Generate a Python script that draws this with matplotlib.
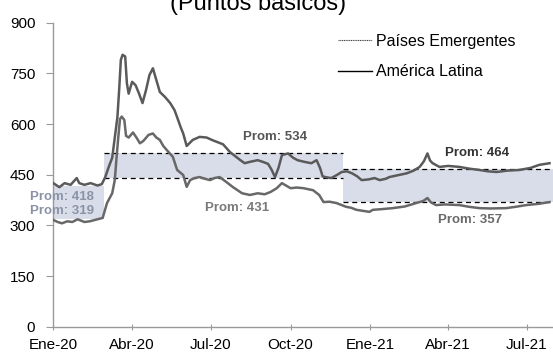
import numpy as np
import matplotlib
matplotlib.use('Agg')
import matplotlib.pyplot as plt
from matplotlib.lines import Line2D

plt.rcParams['font.family'] = ['Liberation Sans', 'DejaVu Sans']

# Spread EMBI, puntos basicos
latam_dates = [
    '2020-01-01', '2020-01-08', '2020-01-14', '2020-01-21', '2020-01-28', '2020-01-31',
    '2020-02-06', '2020-02-13', '2020-02-21', '2020-02-26', '2020-03-01', '2020-03-05',
    '2020-03-09', '2020-03-12', '2020-03-15', '2020-03-17', '2020-03-19', '2020-03-21',
    '2020-03-24', '2020-03-26', '2020-03-28', '2020-04-01', '2020-04-05', '2020-04-09',
    '2020-04-13', '2020-04-17', '2020-04-21', '2020-04-25', '2020-04-29', '2020-05-03',
    '2020-05-09', '2020-05-15', '2020-05-20', '2020-05-23', '2020-05-27', '2020-05-30',
    '2020-06-03', '2020-06-10', '2020-06-18', '2020-06-26', '2020-07-03', '2020-07-08',
    '2020-07-15', '2020-07-23', '2020-07-29', '2020-08-04', '2020-08-09', '2020-08-15',
    '2020-08-24', '2020-08-31', '2020-09-05', '2020-09-09', '2020-09-13', '2020-09-17',
    '2020-09-21', '2020-09-28', '2020-10-04', '2020-10-09', '2020-10-17', '2020-10-25',
    '2020-10-31', '2020-11-04', '2020-11-07', '2020-11-12', '2020-11-17', '2020-11-24',
    '2020-11-29', '2020-12-05', '2020-12-11', '2020-12-17', '2020-12-22', '2020-12-30',
    '2021-01-06', '2021-01-12', '2021-01-19', '2021-01-23', '2021-02-01', '2021-02-12',
    '2021-02-20', '2021-02-27', '2021-03-04', '2021-03-08', '2021-03-11', '2021-03-14',
    '2021-03-22', '2021-04-01', '2021-04-14', '2021-04-25', '2021-05-07', '2021-05-17',
    '2021-05-27', '2021-06-08', '2021-06-22', '2021-07-05', '2021-07-15', '2021-07-27',
]
latam_values = [
    425, 413, 425, 420, 440, 425,
    420, 425, 418, 422, 443, 473,
    500, 560, 620, 700, 790, 805,
    800, 720, 690, 725, 715, 690,
    662, 700, 745, 765, 730, 695,
    680, 662, 641, 620, 591, 572,
    535, 553, 562, 560, 552, 547,
    540, 517, 505, 493, 484, 488,
    493, 487, 482, 465, 443, 470,
    508, 513, 500, 493, 488, 484,
    493, 470, 445, 442, 440, 450,
    458, 460, 454, 445, 434, 436,
    440, 434, 438, 443, 448, 454,
    462, 473, 490, 513, 492, 484,
    473, 476, 473, 468, 464, 460,
    458, 462, 464, 470, 479, 484,
]

em_dates = [
    '2020-01-01', '2020-01-06', '2020-01-11', '2020-01-17', '2020-01-23', '2020-01-29',
    '2020-02-06', '2020-02-12', '2020-02-18', '2020-02-24', '2020-02-27', '2020-03-03',
    '2020-03-09', '2020-03-12', '2020-03-14', '2020-03-16', '2020-03-18', '2020-03-20',
    '2020-03-23', '2020-03-25', '2020-03-28', '2020-04-02', '2020-04-06', '2020-04-10',
    '2020-04-14', '2020-04-20', '2020-04-25', '2020-04-29', '2020-05-03', '2020-05-07',
    '2020-05-11', '2020-05-18', '2020-05-23', '2020-05-30', '2020-06-03', '2020-06-07',
    '2020-06-12', '2020-06-18', '2020-06-24', '2020-06-30', '2020-07-05', '2020-07-11',
    '2020-07-19', '2020-07-26', '2020-08-06', '2020-08-15', '2020-08-24', '2020-09-01',
    '2020-09-08', '2020-09-15', '2020-09-21', '2020-10-01', '2020-10-08', '2020-10-16',
    '2020-10-27', '2020-11-03', '2020-11-08', '2020-11-15', '2020-11-23', '2020-12-04',
    '2020-12-10', '2020-12-16', '2020-12-31', '2021-01-04', '2021-01-14', '2021-01-27',
    '2021-02-10', '2021-02-23', '2021-03-03', '2021-03-08', '2021-03-12', '2021-03-18',
    '2021-03-28', '2021-04-14', '2021-04-25', '2021-05-07', '2021-05-20', '2021-06-07',
    '2021-06-18', '2021-06-30', '2021-07-15', '2021-07-27',
]
em_values = [
    316, 310, 306, 312, 310, 318,
    310, 312, 316, 320, 322, 366,
    395, 434, 500, 560, 615, 622,
    612, 565, 560, 575, 560, 543,
    550, 568, 572, 560, 553, 535,
    523, 503, 464, 449, 414, 434,
    440, 443, 438, 434, 440, 443,
    428, 414, 395, 390, 395, 392,
    399, 410, 425, 410, 412, 410,
    404, 390, 369, 370, 366, 355,
    352, 346, 340, 346, 348, 351,
    356, 366, 372, 381, 368, 360,
    362, 360, 355, 351, 350, 351,
    355, 360, 364, 369,
]

# periodos y promedios
period_starts = ['2020-01-01', '2020-02-28', '2020-12-01']
period_ends = ['2020-02-28', '2020-12-01', '2021-07-31']
band_highs = [418, 515, 467]
band_lows = [319, 439, 370]
high_labels = ['Prom: 418', 'Prom: 534', 'Prom: 464']
low_labels = ['Prom: 319', 'Prom: 431', 'Prom: 357']

tick_dates = ['2020-01-01', '2020-04-01', '2020-07-01', '2020-10-01',
              '2021-01-01', '2021-04-01', '2021-07-01']
tick_labels = ['Ene-20', 'Abr-20', 'Jul-20', 'Oct-20', 'Ene-21', 'Abr-21', 'Jul-21']
y_ticks = [0, 150, 300, 450, 600, 750, 900]


def to_dates(values):
    return np.array(values, dtype='datetime64[D]')


fig = plt.figure(figsize=(5.53, 3.52), dpi=100)
ax = fig.add_axes([0.0964, 0.0719, 0.9036, 0.8636])

starts = to_dates(period_starts)
ends = to_dates(period_ends)
for i in range(len(starts)):
    ax.fill_between([starts[i], ends[i]], band_lows[i], band_highs[i],
                    color='#d9dde9', linewidth=0, zorder=1)
    if i > 0:
        ax.hlines([band_highs[i], band_lows[i]], starts[i], ends[i],
                  colors='black', linestyles=(0, (4, 3)), linewidth=0.9, zorder=2)

ax.plot(to_dates(em_dates), em_values, color='#686868', linewidth=1.8, zorder=3)
ax.plot(to_dates(latam_dates), latam_values, color='#5a5a5a', linewidth=1.8, zorder=3)

# etiquetas de promedios
label_style = dict(fontsize=9.5, fontweight='bold', ha='center', va='center', zorder=4)
ax.text(np.datetime64('2020-01-11'), 384, high_labels[0], color='#8a93a6', **label_style)
ax.text(np.datetime64('2020-01-11'), 342, low_labels[0], color='#8a93a6', **label_style)
ax.text(np.datetime64('2020-09-13'), 561, high_labels[1], color='#555555', **label_style)
ax.text(np.datetime64('2020-07-31'), 351, low_labels[1], color='#7a7a7a', **label_style)
ax.text(np.datetime64('2021-05-04'), 514, high_labels[2], color='#333333', **label_style)
ax.text(np.datetime64('2021-04-26'), 316, low_labels[2], color='#6a6a6a', **label_style)

ax.set_ylim(0, 900)
ax.set_yticks(y_ticks)
ax.set_xlim(np.datetime64('2020-01-01'), np.datetime64('2021-07-31'))
ax.set_xticks(to_dates(tick_dates))
ax.set_xticklabels(tick_labels)

for side in ('top', 'right'):
    ax.spines[side].set_visible(False)
for side in ('left', 'bottom'):
    ax.spines[side].set_color('#9a9a9a')
    ax.spines[side].set_linewidth(1.0)
ax.tick_params(axis='y', direction='out', length=5, color='#9a9a9a', pad=8, labelsize=11)
ax.tick_params(axis='x', direction='inout', length=4, color='#9a9a9a', pad=6, labelsize=11)

handles = [Line2D([], [], color='#444444', linewidth=0.8, linestyle=(0, (1, 0.6))),
           Line2D([], [], color='black', linewidth=1.0)]
ax.legend(handles, ['Países Emergentes', 'América Latina'], loc='upper left',
          bbox_to_anchor=(0.57, 0.963), frameon=False, fontsize=11.5,
          handlelength=2.1, handletextpad=0.25, labelspacing=0.95,
          borderpad=0, borderaxespad=0)

fig.text(0.466, 1 - 10 / 352, '(Puntos básicos)', ha='center', va='baseline', fontsize=17)

fig.savefig('out.png', dpi=100)
